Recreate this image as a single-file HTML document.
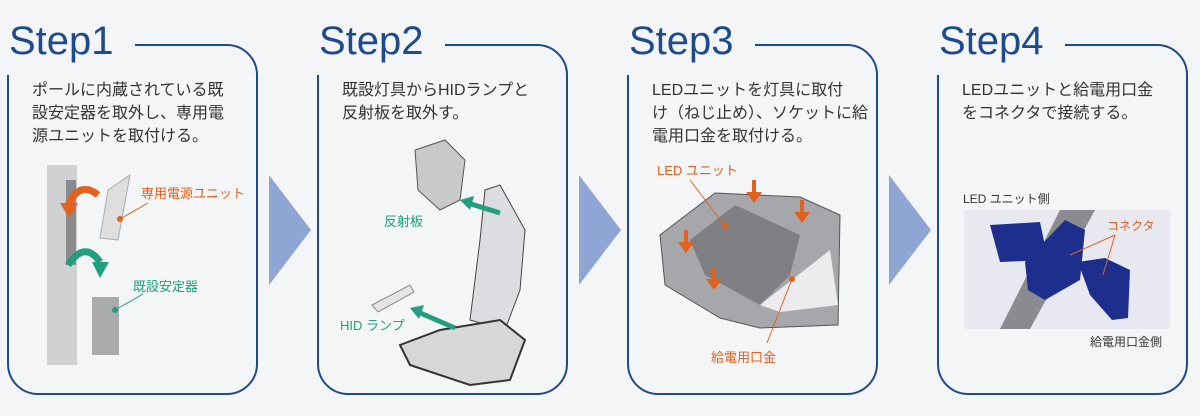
<!DOCTYPE html>
<html><head><meta charset="utf-8"><style>
html,body{margin:0;padding:0;background:#f4f5f7;}
svg{display:block;font-family:"Liberation Sans","Noto Sans CJK JP",sans-serif;}
</style></head><body>
<svg width="1200" height="416" viewBox="0 0 1200 416" xmlns="http://www.w3.org/2000/svg">
<rect width="1200" height="416" fill="#f4f5f7"/>
<g fill="none" stroke="#1f4a8c" stroke-width="2">
<path d="M8,75 L8,364 A30,30 0 0 0 38,394 L227,394 A30,30 0 0 0 257,364 L257,75 A30,30 0 0 0 227,45 L135,45"/>
<path d="M318,75 L318,364 A30,30 0 0 0 348,394 L537,394 A30,30 0 0 0 567,364 L567,75 A30,30 0 0 0 537,45 L445,45"/>
<path d="M628,75 L628,364 A30,30 0 0 0 658,394 L847,394 A30,30 0 0 0 877,364 L877,75 A30,30 0 0 0 847,45 L755,45"/>
<path d="M938,75 L938,364 A30,30 0 0 0 968,394 L1157,394 A30,30 0 0 0 1187,364 L1187,75 A30,30 0 0 0 1157,45 L1065,45"/>
</g>
<g fill="#1f4a8c" font-size="40">
<text x="9" y="54">Step1</text><text x="319" y="54">Step2</text><text x="629" y="54">Step3</text><text x="939" y="54">Step4</text>
</g>
<g fill="#8fa6d4">
<polygon points="269,175 311,230 269,285"/><polygon points="579,175 621,230 579,285"/><polygon points="889,175 931,230 889,285"/>
</g>
<g fill="#333" font-size="16">
<text x="32" y="95">ポールに内蔵されている既</text><text x="32" y="118">設安定器を取外し、専用電</text><text x="32" y="141">源ユニットを取付ける。</text>
<text x="342" y="95">既設灯具からHIDランプと</text><text x="342" y="118">反射板を取外す。</text>
<text x="652" y="95">LEDユニットを灯具に取付</text><text x="652" y="118">け（ねじ止め）、ソケットに給</text><text x="652" y="141">電用口金を取付ける。</text>
<text x="962" y="95">LEDユニットと給電用口金</text><text x="962" y="118">をコネクタで接続する。</text>
</g>
<!-- card1 illustration -->
<rect x="47" y="165" width="30" height="200" fill="#d0d1d3"/><rect x="66" y="180" width="10" height="85" fill="#8a8b8d"/>
<path d="M108,190 L130,175 L118,240 L100,238 Z" fill="#dedede" stroke="#aaa"/>
<rect x="92" y="297" width="27" height="58" fill="#a9aaac"/>
<path d="M98,195 Q80,180 68,205" stroke="#e2611e" stroke-width="7" fill="none"/><polygon points="60,203 78,203 69,218" fill="#e2611e"/>
<path d="M68,265 Q85,240 100,262" stroke="#239e7f" stroke-width="7" fill="none"/><polygon points="92,262 109,262 100,278" fill="#239e7f"/>
<line x1="120" y1="219" x2="148" y2="203" stroke="#e2611e"/><circle cx="120" cy="219" r="3" fill="#e2611e"/>
<line x1="115" y1="310" x2="143" y2="294" stroke="#239e7f"/><circle cx="115" cy="310" r="3" fill="#239e7f"/>
<text x="141" y="198" fill="#e2611e" font-size="13">専用電源ユニット</text>
<text x="133" y="291" fill="#239e7f" font-size="13">既設安定器</text>
<!-- card2 -->
<path d="M415,150 L445,140 L465,160 L460,200 L440,210 L418,190 Z" fill="#c8c9cb" stroke="#555"/>
<path d="M485,190 L500,185 L525,230 L520,290 L505,330 L470,320 L480,240 Z" fill="#dcdde0" stroke="#444"/>
<path d="M400,345 L440,330 L500,320 L525,340 L510,380 L470,385 L410,365 Z" fill="#d6d7d9" stroke="#333" stroke-width="2"/>
<path d="M372,305 L410,285 L414,292 L378,312 Z" fill="#e4e4e4" stroke="#888"/>
<line x1="500" y1="213" x2="468" y2="203" stroke="#239e7f" stroke-width="5"/><polygon points="460,200 474,196 470,210" fill="#239e7f"/>
<line x1="455" y1="328" x2="418" y2="312" stroke="#239e7f" stroke-width="5"/><polygon points="410,308 424,305 419,319" fill="#239e7f"/>
<text x="384" y="226" fill="#239e7f" font-size="13">反射板</text><text x="340" y="330" fill="#239e7f" font-size="13">HID ランプ</text>
<!-- card3 -->
<path d="M660,235 L715,193 L800,197 L840,215 L838,325 L760,328 L720,318 L665,285 Z" fill="#a6a7aa" stroke="#555"/>
<path d="M690,240 L735,205 L800,235 L790,275 L760,305 L705,275 Z" fill="#7e7f82"/>
<path d="M760,305 L830,250 L838,305 L780,312 Z" fill="#ececee"/>
<g fill="#e2611e"><text x="657" y="175" font-size="13">LED ユニット</text><text x="711" y="362" font-size="13">給電用口金</text>
<rect x="752" y="180" width="4" height="14"/><polygon points="746,192 762,192 754,203"/>
<rect x="800" y="200" width="4" height="14"/><polygon points="794,212 810,212 802,223"/>
<rect x="684" y="230" width="4" height="14"/><polygon points="678,242 694,242 686,253"/>
<rect x="712" y="267" width="4" height="14"/><polygon points="706,279 722,279 714,290"/>
<circle cx="725" cy="226" r="3"/><circle cx="792" cy="279" r="3"/></g>
<line x1="690" y1="180" x2="725" y2="226" stroke="#e2611e"/><line x1="792" y1="279" x2="767" y2="343" stroke="#e2611e"/>
<!-- card4 -->
<text x="963" y="203" fill="#333" font-size="12">LED ユニット側</text>
<rect x="964" y="210" width="206" height="119" fill="#e8e9f0"/>
<polygon points="1000,329 1060,210 1095,210 1030,329" fill="#8a8b90"/>
<path d="M990,225 L1040,222 L1048,260 L1000,262 Z" fill="#1d2e8c"/>
<path d="M1025,262 L1065,220 L1085,230 L1080,280 L1045,300 L1028,290 Z" fill="#1d2e8c"/>
<path d="M1078,262 L1105,258 L1130,270 L1128,318 L1112,320 L1090,295 Z" fill="#1d2e8c"/>
<line x1="1070" y1="255" x2="1115" y2="235" stroke="#e2611e"/><line x1="1103" y1="275" x2="1115" y2="235" stroke="#e2611e"/>
<text x="1107" y="230" fill="#e2611e" font-size="12">コネクタ</text>
<text x="1090" y="346" fill="#333" font-size="12">給電用口金側</text>
</svg>
</body></html>
